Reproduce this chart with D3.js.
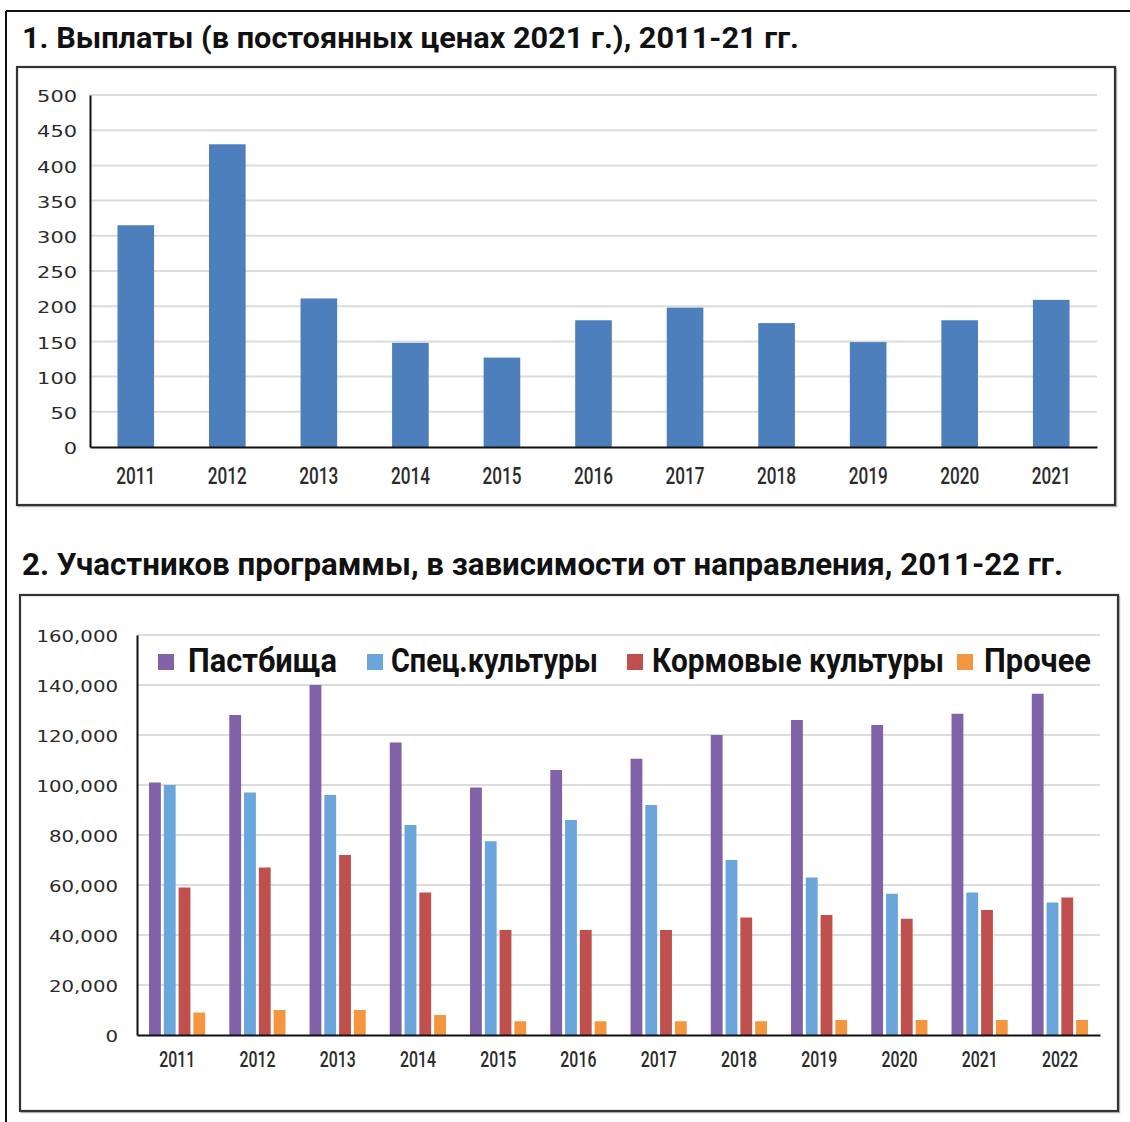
<!DOCTYPE html>
<html>
<head>
<meta charset="utf-8">
<script src="https://cdn.jsdelivr.net/npm/d3@7"></script>
<style>
  html, body { margin: 0; padding: 0; background: #fff; }
  svg { display: block; }
</style>
</head>
<body>
<svg id="chart" width="1130" height="1122"></svg>
<script>
// ---------- DATA ----------
const title1 = "1. Выплаты (в постоянных ценах 2021 г.), 2011-21 гг.";
const title2 = "2. Участников программы, в зависимости от направления, 2011-22 гг.";

const years1 = ["2011","2012","2013","2014","2015","2016","2017","2018","2019","2020","2021"];
const payouts = [315, 430, 211, 148, 127, 180, 198, 176, 149, 180, 209];
const ticks1 = [0, 50, 100, 150, 200, 250, 300, 350, 400, 450, 500];

const years2 = ["2011","2012","2013","2014","2015","2016","2017","2018","2019","2020","2021","2022"];
const seriesNames = ["Пастбища", "Спец.культуры", "Кормовые культуры", "Прочее"];
const pasture = [101000, 128000, 140000, 117000, 99000, 106000, 110500, 120000, 126000, 124000, 128500, 136500];
const specialCrops = [100000, 97000, 96000, 84000, 77500, 86000, 92000, 70000, 63000, 56500, 57000, 53000];
const forageCrops = [59000, 67000, 72000, 57000, 42000, 42000, 42000, 47000, 48000, 46500, 50000, 55000];
const otherUse = [9000, 10000, 10000, 8000, 5500, 5500, 5500, 5500, 6000, 6000, 6000, 6000];
const ticks2 = [0, 20000, 40000, 60000, 80000, 100000, 120000, 140000, 160000];

// ---------- STYLE ----------
const seriesColors = ["#7f62a7", "#6aa6dc", "#c0504d", "#f3963f"];
const barBlue = "#4d7fbc";
const gridColor = "#dcdcdc";
const textDark = "#2b2b2b";
const titleFont = "'Liberation Sans Narrow', 'Roboto', 'Liberation Sans', sans-serif";
const tickFont = "'DejaVu Sans', 'Lato', sans-serif";
const yearFont = "'Liberation Sans Narrow', 'Roboto', sans-serif";

const svg = d3.select("#chart");

// outer frame (top + left)
svg.append("line").attr("x1", 6).attr("x2", 1130).attr("y1", 11).attr("y2", 11)
  .attr("stroke", "#111").attr("stroke-width", 2);
svg.append("line").attr("x1", 6).attr("x2", 6).attr("y1", 11).attr("y2", 1122)
  .attr("stroke", "#111").attr("stroke-width", 2);

// panel boxes
function panelBox(x, y, w, h) {
  svg.append("rect").attr("x", x + 1.5).attr("y", y + 1.5).attr("width", w).attr("height", h)
    .attr("fill", "none").attr("stroke", "#bbb").attr("stroke-width", 1.5);
  svg.append("rect").attr("x", x).attr("y", y).attr("width", w).attr("height", h)
    .attr("fill", "#fff").attr("stroke", "#333").attr("stroke-width", 2.2);
}
panelBox(17, 67, 1098, 438);
panelBox(20, 595, 1098, 516);

// titles
function title(text, x, y, size, len) {
  svg.append("text").attr("x", x).attr("y", y).text(text)
    .attr("font-family", titleFont).attr("font-weight", "bold").attr("font-size", size)
    .attr("fill", "#111").attr("textLength", len).attr("lengthAdjust", "spacingAndGlyphs");
}
title(title1, 22, 48, 29.5, 777);
title(title2, 22, 575, 30.5, 1041);

function numLen(str, digitW, commaW) {
  let L = 0;
  for (const c of str) L += (c === "," ? commaW : digitW);
  return L;
}

// ---------- PANEL 1 ----------
{
  const x0 = 90, x1 = 1097, yTop = 95, yBot = 447;
  const x = d3.scaleBand().domain(years1).range([x0, x1]).paddingInner(0.6).paddingOuter(0.3);
  const y = d3.scaleLinear().domain([0, 500]).range([yBot, yTop]);
  const g = svg.append("g");

  g.selectAll("line.grid").data(ticks1.filter(t => t > 0)).join("line")
    .attr("x1", x0).attr("x2", x1).attr("y1", d => y(d)).attr("y2", d => y(d))
    .attr("stroke", gridColor).attr("stroke-width", 2);

  g.selectAll("rect.bar").data(payouts).join("rect")
    .attr("x", (d, i) => x(years1[i])).attr("width", x.bandwidth())
    .attr("y", d => y(d)).attr("height", d => yBot - y(d))
    .attr("fill", barBlue);

  const yAxis = d3.axisLeft(y).tickValues(ticks1).tickSize(0).tickPadding(13).tickFormat(d3.format("d"));
  const ya = g.append("g").attr("transform", `translate(${x0},0)`).call(yAxis);
  ya.select(".domain").attr("stroke", "#111").attr("stroke-width", 2);
  ya.selectAll("text").attr("font-family", tickFont).attr("font-size", 16).attr("fill", textDark)
    .attr("dy", "0.42em")
    .attr("textLength", d => numLen(String(d), 13.3, 5)).attr("lengthAdjust", "spacingAndGlyphs");

  const xAxis = d3.axisBottom(x).tickSize(0).tickPadding(20);
  const xa = g.append("g").attr("transform", `translate(0,${yBot})`).call(xAxis);
  xa.select(".domain").attr("stroke", "#111").attr("stroke-width", 2);
  xa.selectAll("text").attr("font-family", yearFont).attr("font-size", 24).attr("fill", textDark)
    .attr("font-weight", "500")
    .attr("textLength", 39).attr("lengthAdjust", "spacingAndGlyphs");
}

// ---------- PANEL 2 ----------
{
  const x0 = 137, x1 = 1100, yTop = 635, yBot = 1035;
  const seriesData = [pasture, specialCrops, forageCrops, otherUse];
  const x = d3.scaleBand().domain(years2).range([x0, x1]).paddingInner(0.3).paddingOuter(0.15);
  const xs = d3.scaleBand().domain(d3.range(4)).range([0, x.bandwidth()]).paddingInner(0.2);
  const y = d3.scaleLinear().domain([0, 160000]).range([yBot, yTop]);
  const g = svg.append("g");

  g.selectAll("line.grid").data(ticks2.filter(t => t > 0)).join("line")
    .attr("x1", x0).attr("x2", x1).attr("y1", d => y(d)).attr("y2", d => y(d))
    .attr("stroke", gridColor).attr("stroke-width", 2);

  const groups = g.selectAll("g.grp").data(years2).join("g")
    .attr("transform", d => `translate(${x(d)},0)`);
  groups.selectAll("rect").data((yr, i) => seriesData.map((s, k) => ({k, v: s[i]}))).join("rect")
    .attr("x", d => xs(d.k)).attr("width", xs.bandwidth())
    .attr("y", d => y(d.v)).attr("height", d => yBot - y(d.v))
    .attr("fill", d => seriesColors[d.k]);

  const yAxis = d3.axisLeft(y).tickValues(ticks2).tickSize(0).tickPadding(19).tickFormat(d3.format(","));
  const ya = g.append("g").attr("transform", `translate(${x0},0)`).call(yAxis);
  ya.select(".domain").attr("stroke", "#111").attr("stroke-width", 2);
  ya.selectAll("text").attr("font-family", tickFont).attr("font-size", 15).attr("fill", textDark)
    .attr("dy", "0.45em")
    .attr("textLength", d => numLen(d3.format(",")(d), 12.6, 6)).attr("lengthAdjust", "spacingAndGlyphs");

  const xAxis = d3.axisBottom(x).tickSize(0).tickPadding(16);
  const xa = g.append("g").attr("transform", `translate(0,${yBot})`).call(xAxis);
  xa.select(".domain").attr("stroke", "#111").attr("stroke-width", 2);
  xa.selectAll("text").attr("font-family", yearFont).attr("font-size", 22).attr("fill", textDark)
    .attr("font-weight", "500")
    .attr("textLength", 36).attr("lengthAdjust", "spacingAndGlyphs");

  // legend
  const legendX = [158, 367, 627, 957];
  const legendTextX = [188, 391, 652, 984];
  const legendTextW = [149, 207, 292, 107];
  const lg = g.append("g");
  seriesNames.forEach((name, k) => {
    lg.append("rect").attr("x", legendX[k]).attr("y", 654).attr("width", 16).attr("height", 16)
      .attr("fill", seriesColors[k]);
    lg.append("text").attr("x", legendTextX[k]).attr("y", 672).text(name)
      .attr("font-family", titleFont).attr("font-weight", "bold").attr("font-size", 34)
      .attr("fill", "#111").attr("textLength", legendTextW[k]).attr("lengthAdjust", "spacingAndGlyphs");
  });
}
</script>
</body>
</html>
